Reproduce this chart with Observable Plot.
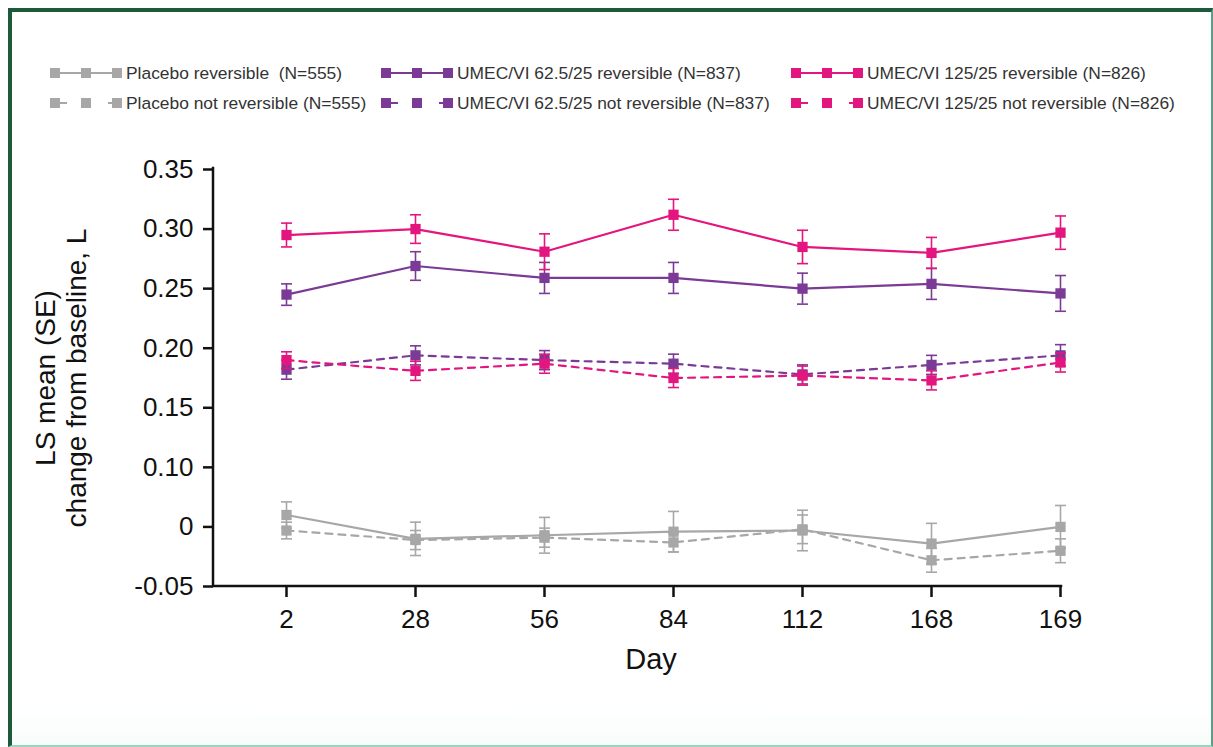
<!DOCTYPE html>
<html>
<head>
<meta charset="utf-8">
<script src="https://cdn.jsdelivr.net/npm/d3@7"></script>
<script src="https://cdn.jsdelivr.net/npm/@observablehq/plot@0.6"></script>
<style>
  html, body { margin: 0; padding: 0; background: #fff; }
  body { width: 1213px; height: 747px; position: relative; overflow: hidden; font-family: "Liberation Sans", Arial, sans-serif; }
  #frame { position: absolute; left: 8px; top: 8px; width: 1199px; height: 733px;
    border-top: 4px solid #1d5a3b; border-left: 4px solid #1d5a3b;
    border-right: 2px solid #5e9d85; border-bottom: 2px solid #9fd2bf;
    background: linear-gradient(to bottom, #fff 0%, #fff 95%, #f6fdfa 100%); }
  #legend { position: absolute; left: 0; top: 0; width: 1213px; height: 120px; }
  .item { position: absolute; height: 20px; display: flex; align-items: center; white-space: pre; font-size: 17.4px; color: #333; }
  .item svg { margin-right: 4px; }
  #chart { position: absolute; left: 0; top: 120px; }
</style>
</head>
<body>
<div id="frame"></div>
<div id="legend"></div>
<div id="chart"></div>
<script>
// ---- data ----
const days = ["2", "28", "56", "84", "112", "168", "169"];

const yTicks = [0, 0.05, 0.10, 0.15, 0.20, 0.25, 0.30, 0.35];
const yTickLabels = ["-0.05", "0", "0.10", "0.15", "0.20", "0.25", "0.30", "0.35"];

const placeboRev     = [0.060, 0.040, 0.043, 0.046, 0.047, 0.036, 0.050];
const placeboRevSE   = [0.011, 0.014, 0.015, 0.017, 0.017, 0.017, 0.018];
const placeboNot     = [0.047, 0.039, 0.041, 0.037, 0.048, 0.022, 0.030];
const placeboNotSE   = [0.007, 0.008, 0.008, 0.008, 0.012, 0.010, 0.010];
const umec62Rev      = [0.245, 0.269, 0.259, 0.259, 0.250, 0.254, 0.246];
const umec62RevSE    = [0.009, 0.012, 0.013, 0.013, 0.013, 0.013, 0.015];
const umec62Not      = [0.182, 0.194, 0.190, 0.187, 0.178, 0.186, 0.194];
const umec62NotSE    = [0.008, 0.008, 0.008, 0.008, 0.008, 0.008, 0.009];
const umec125Rev     = [0.295, 0.300, 0.281, 0.312, 0.285, 0.280, 0.297];
const umec125RevSE   = [0.010, 0.012, 0.015, 0.013, 0.014, 0.013, 0.014];
const umec125Not     = [0.190, 0.181, 0.187, 0.175, 0.177, 0.173, 0.188];
const umec125NotSE   = [0.007, 0.008, 0.008, 0.008, 0.008, 0.008, 0.008];

const seriesNames = [
  "Placebo reversible  (N=555)",
  "Placebo not reversible (N=555)",
  "UMEC/VI 62.5/25 reversible (N=837)",
  "UMEC/VI 62.5/25 not reversible (N=837)",
  "UMEC/VI 125/25 reversible (N=826)",
  "UMEC/VI 125/25 not reversible (N=826)"
];
const seriesValues = [placeboRev, placeboNot, umec62Rev, umec62Not, umec125Rev, umec125Not];
const seriesSE = [placeboRevSE, placeboNotSE, umec62RevSE, umec62NotSE, umec125RevSE, umec125NotSE];
const seriesColors = ["#a7a7a7", "#a7a7a7", "#7b3a95", "#7b3a95", "#e3167f", "#e3167f"];
const seriesDashed = [false, true, false, true, false, true];

const yTitle = "LS mean (SE)\nchange from baseline, L";
const xTitle = "Day";

// ---- legend ----
const legend = d3.select("#legend");
const colX = [50, 381, 791];
const rowY = [63, 93];
seriesNames.forEach((name, s) => {
  const item = legend.append("div").attr("class", "item")
    .style("left", colX[Math.floor(s / 2)] + "px")
    .style("top", rowY[s % 2] + "px");
  const svg = item.append("svg").attr("width", 72).attr("height", 20);
  const c = seriesColors[s];
  if (seriesDashed[s]) {
    svg.append("line").attr("x1", 10).attr("x2", 62).attr("y1", 10).attr("y2", 10)
      .attr("stroke", c).attr("stroke-width", 2).attr("stroke-dasharray", "7,17");
  } else {
    svg.append("line").attr("x1", 5).attr("x2", 67).attr("y1", 10).attr("y2", 10)
      .attr("stroke", c).attr("stroke-width", 2);
  }
  [5, 36, 67].forEach(cx => svg.append("rect").attr("x", cx - 5).attr("y", 5).attr("width", 10).attr("height", 10).attr("fill", c));
  item.append("span").text(name);
});

// ---- chart ----
const rows = seriesNames.flatMap((name, s) => days.map((day, i) => ({
  s, series: name, day,
  value: seriesValues[s][i],
  lo: seriesValues[s][i] - seriesSE[s][i],
  hi: seriesValues[s][i] + seriesSE[s][i]
})));

const capSymbol = {
  draw(ctx, size) { const w = Math.sqrt(size / Math.PI); ctx.moveTo(-w, 0); ctx.lineTo(w, 0); }
};

const seriesMarks = seriesNames.flatMap((name, s) => {
  const d = rows.filter(r => r.s === s);
  const c = seriesColors[s];
  return [
    Plot.line(d, { x: "day", y: "value", stroke: c, strokeWidth: 2.2, strokeDasharray: seriesDashed[s] ? "7,6" : null }),
    Plot.ruleX(d, { x: "day", y1: "lo", y2: "hi", stroke: c, strokeWidth: 1.6 }),
    Plot.dot(d, { x: "day", y: "lo", symbol: capSymbol, r: 5.5, stroke: c, strokeWidth: 1.6, fill: "none" }),
    Plot.dot(d, { x: "day", y: "hi", symbol: capSymbol, r: 5.5, stroke: c, strokeWidth: 1.6, fill: "none" }),
    Plot.dot(d, { x: "day", y: "value", symbol: "square", r: 5.8, fill: c, stroke: "none" })
  ];
});

// axis lines (left and bottom of the frame)
const axisLines = (index, scales, values, dim) => {
  const g = d3.create("svg:g").attr("stroke", "#111").attr("stroke-width", 2.5).attr("fill", "none");
  const x0 = dim.marginLeft, x1 = dim.width - dim.marginRight;
  const y0 = dim.marginTop, y1 = dim.height - dim.marginBottom;
  g.append("path").attr("d", `M${x0},${y0 - 1}V${y1}H${x1 + 1}`).attr("stroke-linecap", "square");
  return g.node();
};

const chart = Plot.plot({
  width: 1213,
  height: 627,
  marginLeft: 213,
  marginRight: 153,
  marginTop: 49,
  marginBottom: 161,
  style: { fontFamily: "'Liberation Sans', Arial, sans-serif", color: "#111", background: "transparent", overflow: "visible" },
  x: { type: "point", domain: days, padding: 0.2577, align: 1 },
  y: { domain: [0, 0.35] },
  marks: [
    Plot.axisY({ ticks: yTicks, tickFormat: d => yTickLabels[yTicks.indexOf(d)], tickSize: 10, tickPadding: 10, fontSize: 26, strokeWidth: 2.5, label: null }),
    Plot.axisX({ tickSize: 11, tickPadding: 12, fontSize: 26, strokeWidth: 2.5, label: null }),
    axisLines,
    Plot.text([yTitle], { frameAnchor: "left", dx: -153, rotate: -90, textAnchor: "middle", text: d => d, fontSize: 28, lineHeight: 1.1, fill: "#111" }),
    Plot.text([xTitle], { frameAnchor: "bottom", dy: 82, dx: 14, text: d => d, fontSize: 29, fill: "#111" }),
    ...seriesMarks
  ]
});
document.getElementById("chart").appendChild(chart);
</script>
</body>
</html>
